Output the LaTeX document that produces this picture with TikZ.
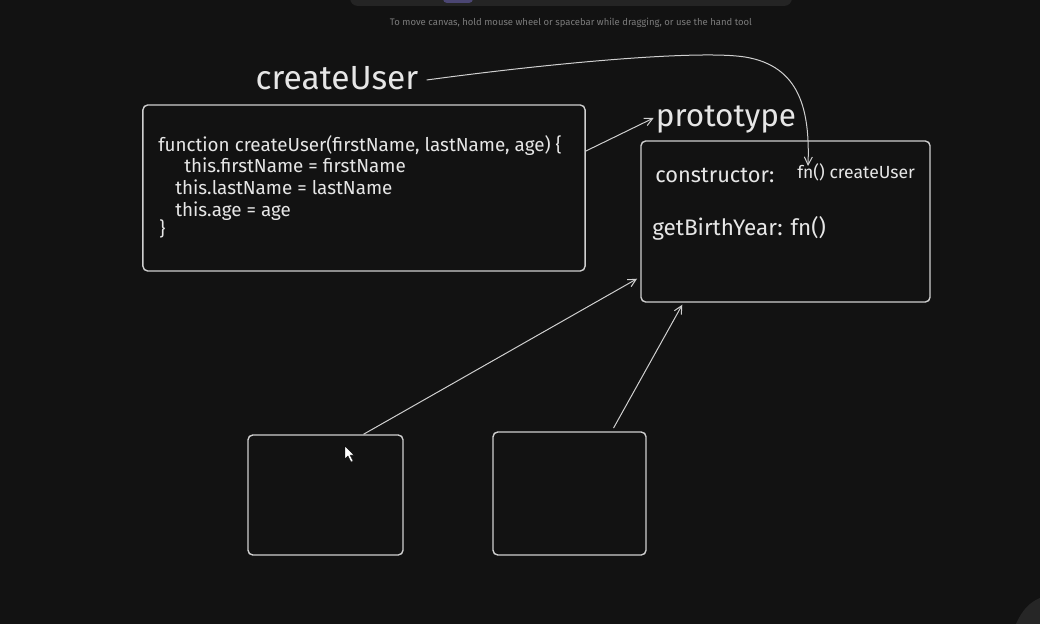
\documentclass[tikz,border=0pt]{standalone}
\usepackage{fontspec}
\setmainfont{Fira Sans}
\usetikzlibrary{arrows.meta, positioning, calc}
\definecolor{canvas}{HTML}{121212}
\definecolor{ink}{HTML}{E6E6E6}
\definecolor{edge}{HTML}{CFCFCF}
\definecolor{hint}{HTML}{7C7C7C}
\definecolor{bar}{HTML}{242424}
\definecolor{tab}{HTML}{4B4673}
\definecolor{headdark}{HTML}{262626}
\tikzset{
  box/.style={draw=edge, line width=0.35mm, rounded corners=1.2mm, inner sep=0pt},
  hand/.style={text=ink, anchor=base west, inner sep=0pt},
  code/.style={hand, font=\fontsize{13.4}{16}\selectfont},
  link/.style={draw=edge, line width=0.25mm, -{Straight Barb[length=2mm, width=2mm]}},
}
\begin{document}
\begin{tikzpicture}[x=0.025cm, y=-0.025cm]
  \fill[canvas] (0,0) rectangle (1040,624);
  \useasboundingbox (0,0) rectangle (1040,624);

  % Toolbar and hint
  \fill[bar, rounded corners=2mm] (350,-14) rectangle (792,6);
  \fill[tab, rounded corners=1mm] (443,-6) rectangle (473,3);
  \node[text=hint, font=\fontsize{6.75}{8}\selectfont] (hint) at (571,23)
    {To move canvas, hold mouse wheel or spacebar while dragging, or use the hand tool};

  % Constructor function
  \node[hand, anchor=center, font=\fontsize{23.8}{28}\selectfont] (ctorname) at (337,78) {createUser};
  \node[box, minimum width=11.05cm, minimum height=4.15cm] (code) at (364,188) {};
  \node[code] (l1) at (158,151) {function createUser(firstName, lastName, age) \{};
  \node[code] (l2) at (184,173) {this.firstName = firstName};
  \node[code] (l3) at (175,194) {this.lastName = lastName};
  \node[code] (l4) at (175,216) {this.age = age};
  \node[code] (l5) at (159,235) {\}};

  % Prototype object
  \node[hand, anchor=center, font=\fontsize{22.4}{26}\selectfont] (protoname) at (726,120) {prototype};
  \node[box, minimum width=7.225cm, minimum height=4.025cm] (proto) at (785.5,221.5) {};
  \node[hand, font=\fontsize{15.5}{18}\selectfont] (ctorkey) at (655,182) {constructor:};
  \node[hand, font=\fontsize{12.5}{14}\selectfont] (ctorval) at (797,179) {fn() createUser};
  \node[hand, font=\fontsize{16}{18}\selectfont] (birthkey) at (652,235) {getBirthYear: fn()};

  % Instances
  \node[box, minimum width=3.875cm, minimum height=3cm] (userA) at (325.5,495) {};
  \node[box, minimum width=3.825cm, minimum height=3.075cm] (userB) at (569.5,493.5) {};

  % Links
  \coordinate (ctortip) at (808,166);
  \draw[link] ([xshift=0.2cm, yshift=-0.05cm]ctorname.east) .. controls (560,62) and (700,50) .. (745,57)
    .. controls (800,66) and (810,110) .. (ctortip);
  \draw[link] ([yshift=-1.17cm]code.north east) -- ([xshift=-0.05cm, yshift=0.05cm]protoname.west);
  \draw[link] ([xshift=0.95cm]userA.north) -- ([xshift=-0.08cm, yshift=0.6cm]proto.south west);
  \draw[link] ([xshift=1.1cm, yshift=0.08cm]userB.north) -- ([xshift=1.05cm, yshift=-0.05cm]proto.south west);

  % Cursor and corner
  \filldraw[fill=white, draw=black, line width=0.1mm]
    (345,446) -- (345,459) -- (348,456) -- (351,462) -- (353,461) -- (350,455) -- (354,455) -- cycle;
  \fill[headdark] (1016,624) .. controls (1022,610) and (1030,602) .. (1040,598) -- (1040,624) -- cycle;
\end{tikzpicture}
\end{document}
